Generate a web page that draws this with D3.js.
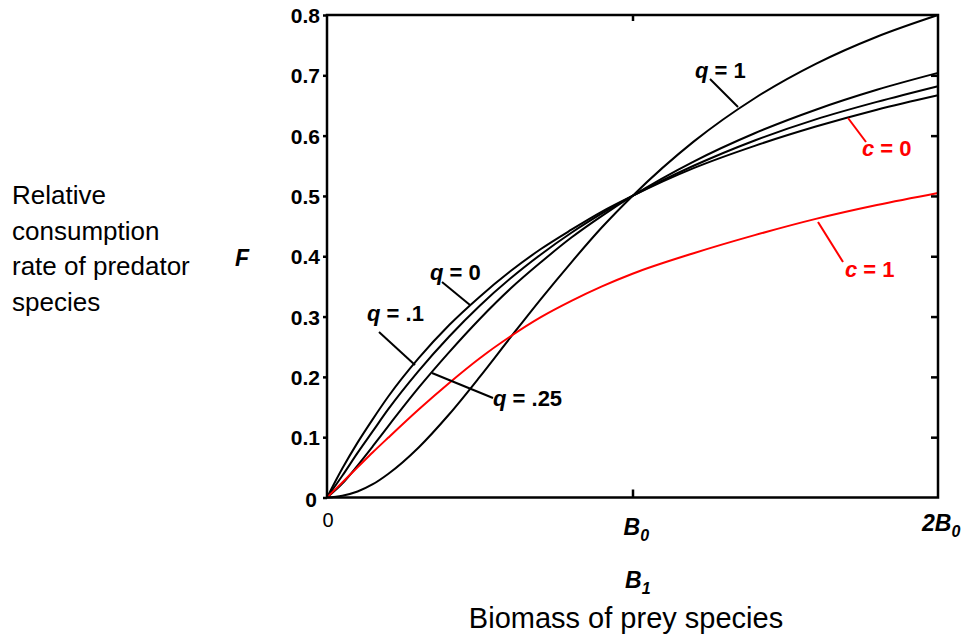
<!DOCTYPE html>
<html>
<head>
<meta charset="utf-8">
<script src="https://cdn.jsdelivr.net/npm/d3@7"></script>
<style>
  body { margin: 0; background: #fff; }
  text { font-family: "Liberation Sans", Arial, sans-serif; }
</style>
</head>
<body>
<div id="chart"></div>
<script>
// prey biomass in units of B0
const biomass = [0, 0.05, 0.1, 0.15, 0.2, 0.3, 0.4, 0.5, 0.6, 0.7, 0.8, 0.9, 1.0, 1.2, 1.4, 1.6, 1.8, 2.0];
const q0   = [0, 0.048, 0.091, 0.130, 0.167, 0.231, 0.286, 0.333, 0.375, 0.412, 0.444, 0.474, 0.5, 0.546, 0.583, 0.615, 0.643, 0.667];
const q01  = [0, 0.036, 0.074, 0.110, 0.146, 0.210, 0.267, 0.318, 0.363, 0.403, 0.439, 0.471, 0.5, 0.550, 0.592, 0.627, 0.656, 0.682];
const q025 = [0, 0.023, 0.053, 0.085, 0.118, 0.182, 0.241, 0.296, 0.346, 0.390, 0.431, 0.467, 0.5, 0.557, 0.604, 0.643, 0.676, 0.704];
const q1   = [0, 0.003, 0.010, 0.022, 0.039, 0.083, 0.138, 0.200, 0.265, 0.329, 0.390, 0.448, 0.5, 0.590, 0.662, 0.719, 0.764, 0.800];
const c1   = [0, 0.025, 0.050, 0.075, 0.099, 0.146, 0.190, 0.231, 0.267, 0.299, 0.326, 0.350, 0.371, 0.405, 0.435, 0.462, 0.485, 0.505];
const yTicks = [0, 0.1, 0.2, 0.3, 0.4, 0.5, 0.6, 0.7, 0.8];
const xTickVals = [0, 1, 2];
const xTickLabels = ["0", "B0", "2B0"];
const yLabelLines = ["Relative", "consumption", "rate of predator", "species"];

const W = 963, H = 640;
const svg = d3.select("#chart").append("svg")
  .attr("width", W).attr("height", H);

const x = d3.scaleLinear().domain([0, 2]).range([327, 938]);
const y = d3.scaleLinear().domain([0, 0.8]).range([497.5, 15]);

const line = d3.line()
  .x(d => x(d[0]))
  .y(d => y(d[1]))
  .curve(d3.curveMonotoneX);

const series = [
  { vals: q0, color: "#000" },
  { vals: q01, color: "#000" },
  { vals: q025, color: "#000" },
  { vals: q1, color: "#000" },
  { vals: c1, color: "#ff0000" }
];

svg.selectAll("path.curve")
  .data(series)
  .enter().append("path")
  .attr("class", "curve")
  .attr("d", s => line(biomass.map((b, i) => [b, s.vals[i]])))
  .attr("fill", "none")
  .attr("stroke", s => s.color)
  .attr("stroke-width", 2);

// frame
svg.append("rect")
  .attr("x", x(0)).attr("y", y(0.8))
  .attr("width", x(2) - x(0)).attr("height", y(0) - y(0.8))
  .attr("fill", "none").attr("stroke", "#000").attr("stroke-width", 2.5);

// y ticks: left outward, right inward
const leftAxis = svg.append("g").attr("transform", `translate(${x(0)},0)`)
  .call(d3.axisLeft(y).tickValues(yTicks).tickSize(4).tickFormat(d => d === 0 ? "0" : d3.format(".1f")(d)));
leftAxis.select(".domain").remove();
leftAxis.selectAll("line").attr("stroke-width", 2.5);
leftAxis.selectAll("text")
  .attr("font-size", 21).attr("font-weight", "bold").attr("fill", "#000")
  .attr("x", d => d === 0 ? -10 : -7).attr("dy", d => d === 0 ? "0.45em" : "0.36em");

const rightAxis = svg.append("g").attr("transform", `translate(${x(2)},0)`)
  .call(d3.axisLeft(y).tickValues(yTicks.slice(1, -1)).tickSize(7).tickFormat(""));
rightAxis.select(".domain").remove();
rightAxis.selectAll("line").attr("stroke-width", 2.5);

// x ticks at B0 inward on top and bottom
const bottomAxis = svg.append("g").attr("transform", `translate(0,${y(0)})`)
  .call(d3.axisTop(x).tickValues([1]).tickSize(8).tickFormat(""));
bottomAxis.select(".domain").remove();
bottomAxis.selectAll("line").attr("stroke-width", 2.5);
const topAxis = svg.append("g").attr("transform", `translate(0,${y(0.8)})`)
  .call(d3.axisBottom(x).tickValues([1]).tickSize(6).tickFormat(""));
topAxis.select(".domain").remove();
topAxis.selectAll("line").attr("stroke-width", 2.5);

// x tick labels with subscripts
xTickVals.forEach((v, i) => {
  const lab = xTickLabels[i];
  const t = svg.append("text").attr("fill", "#000");
  if (lab === "0") {
    t.attr("x", x(v) + 1).attr("y", 527).attr("text-anchor", "middle")
      .attr("font-size", 20).text("0");
  } else {
    t.attr("x", i === 2 ? x(v) - 16 : x(v) - 9).attr("y", i === 2 ? 531 : 535)
      .attr("font-size", 23).attr("font-weight", "bold").attr("font-style", "italic");
    t.append("tspan").text(lab.slice(0, -1));
    t.append("tspan").attr("font-size", 16).attr("dy", 6).text(lab.slice(-1));
  }
});

// axis titles
const b1 = svg.append("text").attr("x", 625).attr("y", 588)
  .attr("font-size", 23).attr("font-weight", "bold").attr("font-style", "italic");
b1.append("tspan").text("B");
b1.append("tspan").attr("font-size", 16).attr("dy", 6).text("1");

svg.append("text").attr("x", 626).attr("y", 628)
  .attr("text-anchor", "middle").attr("font-size", 29)
  .text("Biomass of prey species");

svg.append("text").attr("x", 235).attr("y", 266)
  .attr("font-size", 23).attr("font-weight", "bold").attr("font-style", "italic")
  .text("F");

svg.selectAll("text.ylab")
  .data(yLabelLines)
  .enter().append("text")
  .attr("class", "ylab")
  .attr("x", 12)
  .attr("y", (d, i) => 204 + i * 35.7)
  .attr("font-size", 26)
  .text(d => d);

// curve labels with leader lines
const labels = [
  { sym: "q", rest: " = 1",   tx: 695, ty: 78,  l: [710, 79, 738, 107], color: "#000" },
  { sym: "q", rest: " = 0",   tx: 430, ty: 280, l: [442, 282, 470, 305], color: "#000" },
  { sym: "q", rest: " = .1",  tx: 367, ty: 321, l: [379, 332, 415, 365], color: "#000" },
  { sym: "q", rest: " = .25", tx: 493, ty: 406, l: [432, 373, 493, 398], color: "#000" },
  { sym: "c", rest: " = 0",   tx: 862, ty: 156, l: [848, 118, 866, 142], color: "#ff0000" },
  { sym: "c", rest: " = 1",   tx: 845, ty: 277, l: [818, 222, 843, 262], color: "#ff0000" }
];

labels.forEach(d => {
  svg.append("line")
    .attr("x1", d.l[0]).attr("y1", d.l[1]).attr("x2", d.l[2]).attr("y2", d.l[3])
    .attr("stroke", d.color).attr("stroke-width", 2);
  const t = svg.append("text").attr("x", d.tx).attr("y", d.ty)
    .attr("font-size", 22).attr("font-weight", "bold").attr("fill", d.color);
  t.append("tspan").attr("font-style", "italic").text(d.sym);
  t.append("tspan").text(d.rest);
});
</script>
</body>
</html>
